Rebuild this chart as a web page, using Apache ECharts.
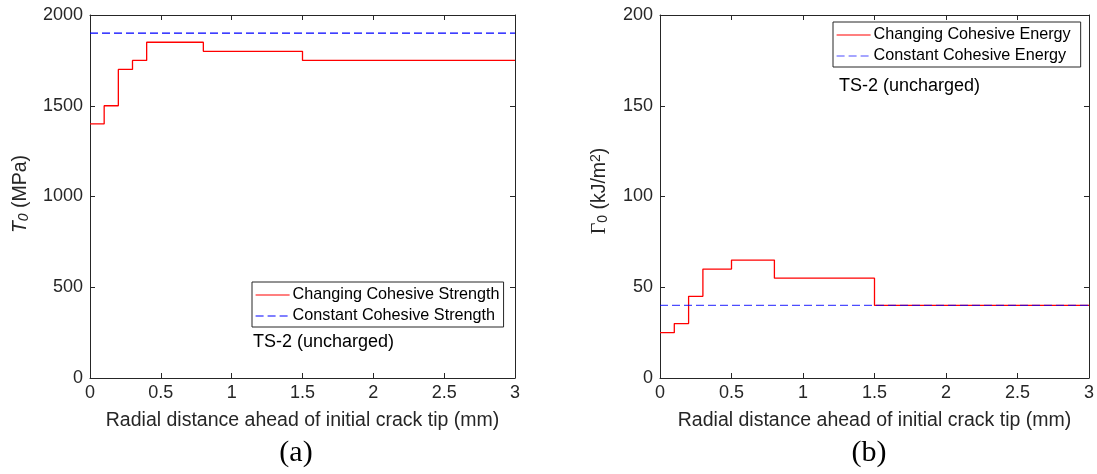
<!DOCTYPE html>
<html>
<head>
<meta charset="utf-8">
<script src="https://cdn.jsdelivr.net/npm/echarts@6/dist/echarts.min.js"></script>
<style>
  html, body { margin: 0; padding: 0; background: #fff; }
  #chart { width: 1097px; height: 474px; }
</style>
</head>
<body>
<div id="chart"></div>
<script>
// Cohesive zone parameters along the crack path (TS-2, uncharged)
const strengthBreaks = [0, 0.1, 0.2, 0.3, 0.4, 0.8, 1.5];
const strengthLevels = [1400, 1500, 1700, 1750, 1850, 1800, 1750];
const strengthConst = 1900;

const energyBreaks = [0, 0.1, 0.2, 0.3, 0.5, 0.8, 1.5];
const energyLevels = [25, 30, 45, 60, 65, 55, 40];
const energyConst = 40;

const xEnd = 3;
const xTicks = ['0', '0.5', '1', '1.5', '2', '2.5', '3'];
const strengthTicks = ['0', '500', '1000', '1500', '2000'];
const energyTicks = ['0', '50', '100', '150', '200'];

// piecewise-constant profile: each level holds until the next break
function stepPoints(breaks, levels, end) {
  const pts = breaks.map((b, i) => [b, levels[i]]);
  pts.push([end, levels[levels.length - 1]]);
  return pts;
}

const axisColor = '#262626';
const font = 'Liberation Sans, Arial, sans-serif';
const serif = 'Liberation Serif, Times New Roman, serif';

function boxAxis(extra) {
  return Object.assign({
    type: 'value',
    axisLine: { show: true, onZero: false, lineStyle: { color: axisColor, width: 1 } },
    axisTick: { show: true, inside: true, length: 5, lineStyle: { color: axisColor } },
    splitLine: { show: false }
  }, extra);
}

function xAxes(gridIndex) {
  return [
    boxAxis({
      gridIndex, min: 0, max: xEnd, interval: 0.5, position: 'bottom',
      axisLabel: { color: axisColor, fontSize: 18, fontFamily: font, margin: 6,
        formatter: v => xTicks[Math.round(v / 0.5)] },
      name: 'Radial distance ahead of initial crack tip (mm)',
      nameLocation: 'middle', nameGap: 33,
      nameTextStyle: { color: axisColor, fontSize: 19.5, fontFamily: font }
    }),
    boxAxis({ gridIndex, min: 0, max: xEnd, interval: 0.5, position: 'top', axisLabel: { show: false } })
  ];
}

function yAxes(gridIndex, ticks) {
  const lo = Number(ticks[0]);
  const hi = Number(ticks[ticks.length - 1]);
  const step = Number(ticks[1]) - lo;
  return [
    boxAxis({
      gridIndex, min: lo, max: hi, interval: step, position: 'left',
      axisLabel: { color: axisColor, fontSize: 18, fontFamily: font, margin: 7,
        formatter: v => ticks[Math.round((v - lo) / step)] }
    }),
    boxAxis({ gridIndex, min: lo, max: hi, interval: step, position: 'right', axisLabel: { show: false } })
  ];
}

function legend(names, left, top, padRight) {
  return {
    data: names, orient: 'vertical', left, top,
    borderColor: axisColor, borderWidth: 1, borderRadius: 0,
    padding: [5, padRight, 3, 3], itemGap: 5, itemWidth: 34, itemHeight: 14,
    itemStyle: { opacity: 0 },
    lineStyle: { width: 1.2 },
    textStyle: { color: '#000', fontSize: 16.2, fontFamily: font, padding: [0, 0, 0, -2] },
    selectedMode: false
  };
}

const chart = echarts.init(document.getElementById('chart'), null, { renderer: 'canvas' });

chart.setOption({
  animation: false,
  backgroundColor: '#fff',
  grid: [
    { left: 90, top: 15, width: 425, height: 363 },
    { left: 660, top: 15, width: 429, height: 363 }
  ],
  xAxis: [...xAxes(0), ...xAxes(1)],
  yAxis: [...yAxes(0, strengthTicks), ...yAxes(1, energyTicks)],
  legend: [
    legend(['Changing Cohesive Strength', 'Constant Cohesive Strength'], 252, 282, 4),
    legend(['Changing Cohesive Energy', 'Constant Cohesive Energy'], 833, 22, 10)
  ],
  series: [
    {
      name: 'Changing Cohesive Strength', type: 'line', xAxisIndex: 0, yAxisIndex: 0,
      step: 'end', symbol: 'none', color: '#ff0000',
      lineStyle: { color: '#ff0000', width: 1.3 },
      data: stepPoints(strengthBreaks, strengthLevels, xEnd)
    },
    {
      name: 'Constant Cohesive Strength', type: 'line', xAxisIndex: 0, yAxisIndex: 0,
      symbol: 'none', color: '#0000ff',
      lineStyle: { color: '#0000ff', width: 1.3, type: [8, 4] },
      data: [[0, strengthConst], [xEnd, strengthConst]]
    },
    {
      name: 'Changing Cohesive Energy', type: 'line', xAxisIndex: 2, yAxisIndex: 2,
      step: 'end', symbol: 'none', color: '#ff0000',
      lineStyle: { color: '#ff0000', width: 1.3 },
      data: stepPoints(energyBreaks, energyLevels, xEnd)
    },
    {
      name: 'Constant Cohesive Energy', type: 'line', xAxisIndex: 2, yAxisIndex: 2,
      symbol: 'none', color: '#0000ff',
      lineStyle: { color: '#0000ff', width: 1.3, type: [8, 4], opacity: 0.7 },
      data: [[0, energyConst], [xEnd, energyConst]]
    }
  ],
  graphic: [
    // vertical axis titles
    {
      type: 'text', x: 21, y: 194, rotation: Math.PI / 2,
      style: {
        text: '{i|T}{s|0}{n| (MPa)}', textAlign: 'center', textVerticalAlign: 'middle',
        rich: {
          i: { fontSize: 19.5, fontStyle: 'italic', fontFamily: font, fill: axisColor, height: 22 },
          s: { fontSize: 14, fontStyle: 'italic', fontFamily: font, fill: axisColor, verticalAlign: 'bottom', height: 15 },
          n: { fontSize: 19.5, fontFamily: font, fill: axisColor, height: 22 }
        }
      }
    },
    {
      type: 'text', x: 600, y: 191, rotation: Math.PI / 2,
      style: {
        text: '{g|Γ}{s|0}{n| (kJ/m}{p|2}{n|)}', textAlign: 'center', textVerticalAlign: 'middle',
        rich: {
          g: { fontSize: 20, fontFamily: serif, fill: axisColor, height: 22 },
          s: { fontSize: 14, fontFamily: font, fill: axisColor, verticalAlign: 'bottom', height: 15 },
          n: { fontSize: 19.5, fontFamily: font, fill: axisColor, height: 22 },
          p: { fontSize: 14, fontFamily: font, fill: axisColor, verticalAlign: 'top', height: 15 }
        }
      }
    },
    // specimen notes
    {
      type: 'text', x: 253, y: 342,
      style: { text: 'TS-2 (uncharged)', font: '18px ' + font, fill: '#000', textVerticalAlign: 'middle' }
    },
    {
      type: 'text', x: 839, y: 86,
      style: { text: 'TS-2 (uncharged)', font: '18px ' + font, fill: '#000', textVerticalAlign: 'middle' }
    },
    // panel captions
    {
      type: 'text', x: 296, y: 453,
      style: { text: '(a)', font: '30px ' + serif, fill: '#000', textAlign: 'center', textVerticalAlign: 'middle' }
    },
    {
      type: 'text', x: 869, y: 453,
      style: { text: '(b)', font: '30px ' + serif, fill: '#000', textAlign: 'center', textVerticalAlign: 'middle' }
    }
  ]
});
</script>
</body>
</html>
